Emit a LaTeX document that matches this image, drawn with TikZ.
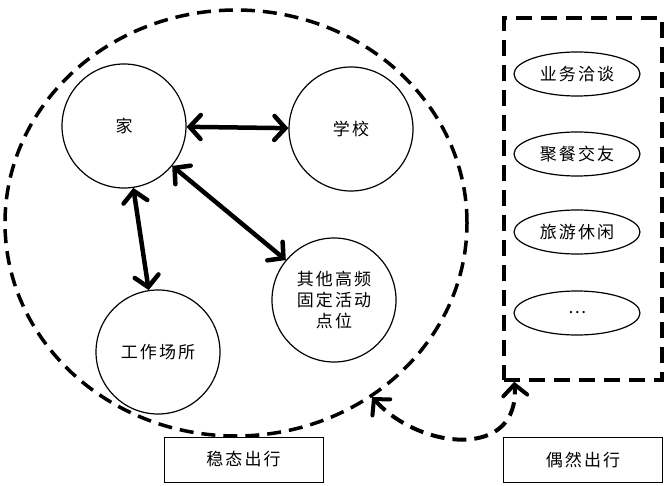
\documentclass[tikz,border=0pt]{standalone}
\usepackage{fontspec}
\setmainfont{Noto Sans CJK SC}[LetterSpace=12]
\usetikzlibrary{arrows.meta, shapes.geometric}
\usepackage{xcolor}

\begin{document}
\begin{tikzpicture}[x=1pt, y=-1pt, font=\fontsize{17}{21}\selectfont,
    place/.style={draw, line width=1.2pt, circle, minimum size=124pt, align=center},
    trip/.style={draw, line width=1.2pt, ellipse, minimum width=126pt, minimum height=44pt},
    tag/.style={draw, line width=0.9pt, rectangle, minimum width=159pt, minimum height=45pt},
    barbs/.style={{Straight Barb[length=11pt,width=24pt,line cap=round]}-{Straight Barb[length=11pt,width=24pt,line cap=round]}},
    link/.style={line width=4.5pt, barbs}]
    \useasboundingbox (0,0) rectangle (668,486);

    \node[draw, ellipse, line width=3.5pt, dash pattern=on 14pt off 8pt, minimum width=462pt, minimum height=426pt] (stable) at (236,223) {};
    \node[draw, rectangle, line width=3.5pt, dash pattern=on 16pt off 9pt, minimum width=158pt, minimum height=362pt] (occasional) at (583,199) {};

    \node[place] (home) at (124,126) {家};
    \node[place] (school) at (351,129) {学校};
    \node[place] (work) at (158,352) {工作场所};
    \node[place] (other) at (334,300) {其他高频\\固定活动\\点位};

    \node[trip] (business) at (577,74) {业务洽谈};
    \node[trip] (dinner) at (577,154) {聚餐交友};
    \node[trip] (travel) at (577,232) {旅游休闲};
    \node[trip] (more) at (577,313) {…};

    \node[tag] (stabletag) at (243.5,459.5) {稳态出行};
    \node[tag] (occtag) at (583,459.5) {偶然出行};

    \path [link] (home) edge (school);
    \path [link] (home) edge (work);
    \path [link] (home) edge (other);

    \draw [line width=4pt, dash pattern=on 14pt off 8pt, barbs]
        (stable.-52) .. controls (420,450) and (520,460) .. ([xshift=12pt]occasional.south west);
\end{tikzpicture}
\end{document}
